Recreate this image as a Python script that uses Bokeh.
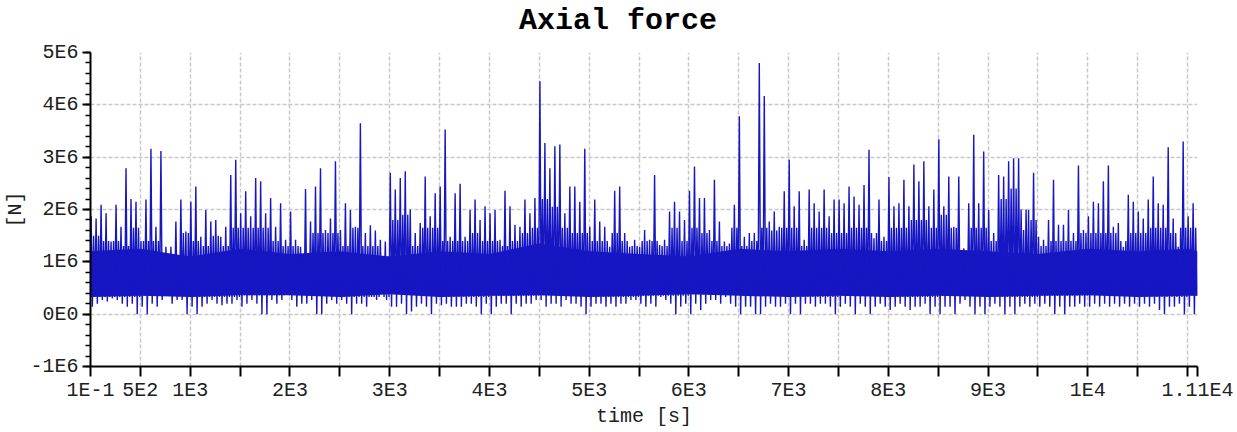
import numpy as np
from bokeh.plotting import figure
from bokeh.models import FixedTicker, Range1d, LinearAxis
from bokeh.embed import file_html
from bokeh.resources import INLINE

# ---------------- data ----------------
# Highest / lowest excursion of the signal in each 50 s bin, units 1E6 N
BIN_S = 50.0
force_hi_MN = [
    1.87, 1.83, 2.09, 1.93, 1.39, 2.09, 1.67, 2.79, 2.20, 2.15,
    1.40, 2.19, 3.16, 1.67, 3.12, 1.29, 1.29, 1.77, 2.19, 1.58,
    2.15, 2.44, 1.48, 1.99, 1.77, 1.80, 1.48, 1.67, 2.66, 2.95,
    1.93, 2.35, 1.87, 2.60, 2.54, 1.93, 2.22, 1.67, 2.12, 1.42,
    1.96, 1.42, 1.29, 2.39, 1.77, 2.44, 2.79, 1.61, 1.83, 2.92,
    1.61, 2.12, 1.99, 1.67, 3.65,
    1.55, 1.70, 1.60, 1.42, 1.39, 2.70, 2.38, 2.60, 2.73, 2.00,
    1.55, 1.74, 2.63, 1.87, 2.31, 2.44, 3.53, 1.48, 2.31, 2.49,
    1.48, 1.99, 2.19, 1.80, 2.06, 1.93, 1.99, 1.42, 2.36, 2.06,
    1.71, 1.67, 2.19, 1.93, 2.22, 4.45, 3.27, 2.79, 3.21, 3.24,
    1.93, 2.44, 2.44, 2.15, 3.16, 1.67, 2.19, 1.77, 1.67, 1.29,
    2.36, 2.44, 1.55, 1.29, 1.42,
    1.29, 1.61, 1.42, 2.66, 1.32, 1.42, 1.96, 2.15, 1.96, 1.80,
    2.36, 2.82, 2.22, 2.22, 1.61, 2.57, 1.77, 1.39, 1.35, 2.09,
    3.78, 1.48, 1.55, 1.55, 4.80, 4.17, 1.77, 1.96, 1.67, 2.35,
    2.95, 2.06, 2.35, 1.42, 2.38, 2.12, 1.96, 2.38, 1.87, 2.19,
    2.19, 2.12, 2.44, 2.25, 2.09, 2.47, 3.14, 1.45, 2.19, 1.48,
    2.62, 2.06, 2.12, 2.57, 2.06, 2.86,
    2.54, 2.92, 2.06, 2.38, 3.34, 2.06, 2.63, 1.67, 2.63, 1.26,
    2.12, 3.43, 2.12, 3.11, 1.99, 1.55, 2.66, 2.63, 2.92, 2.98,
    2.98, 1.61, 1.99, 2.70, 1.48, 1.42, 1.80, 2.57, 1.71, 1.71,
    1.99, 1.55, 2.84, 1.61, 1.87, 2.15, 2.12, 2.54, 2.84, 1.67,
    1.74, 1.29, 2.28, 2.15, 1.96, 1.83, 2.19, 2.63, 2.12, 2.09,
    3.19, 1.83, 1.29, 3.30, 1.87, 2.12,
]
force_lo_MN = [
    0.14, 0.20, 0.27, 0.24, 0.30, 0.27, 0.20, 0.14, 0.20, 0.00,
    0.14, 0.00, 0.20, 0.14, 0.27, 0.40, 0.20, 0.27, 0.27, 0.00,
    0.14, 0.00, 0.14, 0.20, 0.27, 0.20, 0.17, 0.20, 0.20, 0.27,
    0.14, 0.20, 0.27, 0.20, 0.00, 0.00, 0.27, 0.20, 0.27, 0.40,
    0.27, 0.14, 0.20, 0.20, 0.27, 0.00, 0.00, 0.20, 0.27, 0.20,
    0.27, 0.20, 0.00, 0.20, 0.20,
    0.14, 0.33, 0.27, 0.40, 0.27, 0.14, 0.14, 0.20, 0.00, 0.05,
    0.14, 0.20, 0.14, 0.00, 0.20, 0.17, 0.20, 0.14, 0.14, 0.14,
    0.20, 0.20, 0.14, 0.00, 0.20, 0.00, 0.14, 0.20, 0.20, 0.00,
    0.20, 0.14, 0.20, 0.20, 0.27, 0.27, 0.14, 0.20, 0.20, 0.14,
    0.27, 0.20, 0.20, 0.14, 0.00, 0.14, 0.20, 0.20, 0.14, 0.20,
    0.14, 0.20, 0.20, 0.27, 0.27,
    0.20, 0.14, 0.20, 0.14, 0.33, 0.27, 0.20, 0.00, 0.14, 0.20,
    0.00, 0.20, 0.08, 0.20, 0.27, 0.27, 0.20, 0.33, 0.20, 0.14,
    0.00, 0.14, 0.14, 0.00, 0.00, 0.14, 0.20, 0.14, 0.14, 0.20,
    0.00, 0.20, 0.00, 0.20, 0.20, 0.14, 0.20, 0.20, 0.14, 0.00,
    0.14, 0.20, 0.14, 0.00, 0.20, 0.14, 0.00, 0.14, 0.20, 0.14,
    0.08, 0.14, 0.20, 0.14, 0.08, 0.14,
    0.14, 0.20, 0.00, 0.14, 0.00, 0.14, 0.14, 0.00, 0.20, 0.27,
    0.14, 0.00, 0.14, 0.00, 0.14, 0.20, 0.14, 0.00, 0.14, 0.00,
    0.14, 0.20, 0.14, 0.20, 0.14, 0.20, 0.14, 0.00, 0.14, 0.00,
    0.14, 0.14, 0.20, 0.14, 0.14, 0.20, 0.14, 0.20, 0.14, 0.20,
    0.14, 0.20, 0.14, 0.20, 0.14, 0.20, 0.14, 0.20, 0.08, 0.00,
    0.14, 0.14, 0.20, 0.00, 0.14, 0.00,
]
# Typical top of the densely overdrawn part of the trace, per 100 s bin, units 1E6 N
BODY_BIN_S = 100.0
body_top_MN = [
    1.50, 1.40, 1.40, 1.30, 1.65, 1.40, 1.40, 1.15, 1.10, 1.55,
    1.40, 1.30, 1.50, 1.30, 1.65, 1.65, 1.65, 1.65, 1.40, 1.30,
    1.30, 1.15, 1.55, 1.55, 1.55, 1.30, 1.65, 1.30, 1.30, 1.10,
    1.80, 1.90, 1.30, 1.65, 1.65, 1.40, 1.40, 1.40, 1.55, 1.40,
    1.40, 1.30, 1.40, 1.55, 1.65, 2.20, 2.05, 1.65, 1.55, 1.55,
    1.40, 1.40, 1.55, 1.40, 1.30, 1.40, 1.40, 1.30, 1.65, 1.40,
    1.65, 1.55, 1.40, 1.30, 1.65, 1.30, 1.40, 1.65, 1.60, 1.65,
    1.65, 1.30, 1.65, 1.65, 1.55, 1.55, 1.65, 1.65, 1.55, 1.40,
    1.65, 1.65, 1.80, 1.80, 1.65, 1.90, 1.65, 1.15, 1.65, 1.65,
    1.40, 2.20, 2.40, 2.00, 1.80, 1.30, 1.40, 1.40, 1.40, 1.55,
    1.55, 1.55, 1.55, 1.40, 1.55, 1.55, 1.65, 1.65, 1.55, 1.65,
    1.65,
]
# Solid core of the trace, every 500 s, units 1E6 N
core_t = [0.1, 500, 1000, 1500, 2000, 2500, 3000, 3500, 4000, 4500, 5000, 5500,
          6000, 6500, 7000, 7500, 8000, 8500, 9000, 9500, 10000, 10500, 11000, 11100]
core_hi_MN = [1.20, 1.25, 1.10, 1.25, 1.15, 1.20, 1.10, 1.20, 1.15, 1.35, 1.20, 1.15,
              1.10, 1.25, 1.20, 1.25, 1.20, 1.25, 1.20, 1.15, 1.25, 1.20, 1.25, 1.20]
core_lo_MN = [0.33, 0.35, 0.33, 0.36, 0.36, 0.33, 0.38, 0.33, 0.35, 0.36, 0.33, 0.35,
              0.38, 0.35, 0.33, 0.35, 0.33, 0.35, 0.33, 0.35, 0.36, 0.33, 0.35, 0.35]

title_text = "Axial force"
y_ticks = [-1000000, 0, 1000000, 2000000, 3000000, 4000000, 5000000]
y_tick_labels = ["-1E6", "0E0", "1E6", "2E6", "3E6", "4E6", "5E6"]
x_ticks = [0.1, 500, 1000, 1500, 2000, 2500, 3000, 3500, 4000, 4500, 5000, 5500,
           6000, 6500, 7000, 7500, 8000, 8500, 9000, 9500, 10000, 10500, 11000, 11100]
x_tick_labels = {0.1: "1E-1", 500: "5E2", 1000: "1E3", 2000: "2E3", 3000: "3E3",
                 4000: "4E3", 5000: "5E3", 6000: "6E3", 7000: "7E3", 8000: "8E3",
                 9000: "9E3", 10000: "1E4", 11100: "1.11E4"}
T_END = 11100.0
TITLE_X = 5290  # the title is centred over the whole canvas, left of the frame centre

# ---------------- build the trace: per 50 s bin, a spike pair and a body pair ----------------
t_pts, f_pts = [], []
for i, (hi, lo) in enumerate(zip(force_hi_MN, force_lo_MN)):
    t0 = i * BIN_S
    top = body_top_MN[int(t0 // BODY_BIN_S)]
    bot = core_lo_MN[int(t0 // 500)]
    t_pts += [t0 + BIN_S * 0.125, t0 + BIN_S * 0.375, t0 + BIN_S * 0.625, t0 + BIN_S * 0.875]
    f_pts += [hi * 1e6, lo * 1e6, top * 1e6, bot * 1e6]

FONT = "Liberation Mono"
BLUE = "#1616c2"

p = figure(width=1237, height=432, output_backend="svg", toolbar_location=None, title=None,
           x_range=Range1d(0.1, T_END), y_range=Range1d(-1e6, 5e6),
           min_border_left=90, min_border_right=40, min_border_top=52, min_border_bottom=66)
p.outline_line_color = None
p.background_fill_color = "white"
p.border_fill_color = "white"

p.varea(x=core_t, y1=[v * 1e6 for v in core_lo_MN], y2=[v * 1e6 for v in core_hi_MN],
        fill_color=BLUE)
p.line(t_pts, f_pts, line_color=BLUE, line_width=1.4)

# title, carried by an undecorated axis above the frame so that it sits high and off-centre
tax = LinearAxis(ticker=FixedTicker(ticks=[TITLE_X]),
                 major_label_overrides={TITLE_X: title_text},
                 axis_line_color=None, major_tick_line_color=None, minor_tick_line_color=None,
                 major_tick_in=0, major_tick_out=0, minor_tick_in=0, minor_tick_out=0,
                 major_label_standoff=15, major_label_text_font=FONT,
                 major_label_text_font_size="30px", major_label_text_font_style="bold",
                 major_label_text_color="black")
p.add_layout(tax, "above")

# axes
yax = p.yaxis[0]
yax.ticker = FixedTicker(ticks=y_ticks, minor_ticks=list(np.arange(-1e6, 5.0001e6, 2e5)))
yax.major_label_overrides = {k: v for k, v in zip(y_ticks, y_tick_labels)}
yax.axis_label = "[N]"
xax = p.below[0]
xax.ticker = FixedTicker(ticks=x_ticks)
xax.major_label_overrides = {k: x_tick_labels.get(k, "") for k in x_ticks}
xax.axis_label = "time [s]"
xax.minor_tick_line_color = None

for ax in (xax, yax):
    ax.axis_line_color = "black"
    ax.axis_line_width = 2
    ax.major_tick_line_color = "black"
    ax.major_tick_line_width = 2
    ax.minor_tick_line_width = 1.5
    ax.major_tick_in = 0
    ax.minor_tick_in = 0
    ax.major_label_text_font = FONT
    ax.major_label_text_font_size = "20px"
    ax.major_label_text_color = "#202020"
    ax.axis_label_text_font = FONT
    ax.axis_label_text_font_size = "20px"
    ax.axis_label_text_font_style = "normal"
    ax.axis_label_text_color = "#202020"
xax.major_tick_out = 10
xax.major_label_standoff = 2
xax.axis_label_standoff = 0
yax.major_tick_out = 8
yax.minor_tick_out = 5
yax.minor_tick_line_color = "black"
yax.major_label_standoff = 4
yax.axis_label_standoff = 0

for g in (p.xgrid[0], p.ygrid[0]):
    g.grid_line_color = "#c8c8c8"
    g.grid_line_width = 1.5
    g.grid_line_dash = "4 2"
p.xgrid[0].ticker = xax.ticker
p.ygrid[0].ticker = yax.ticker

open("out.html", "w").write(file_html(p, INLINE))
